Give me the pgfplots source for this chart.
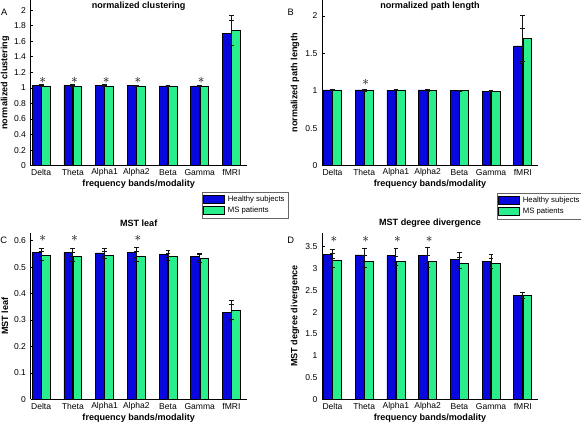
\documentclass[border=0pt]{standalone}
\usepackage{fontspec}
\setmainfont{Liberation Sans}
\usepackage{pgfplots}
\pgfplotsset{compat=1.18}
\definecolor{hblue}{RGB}{8,8,222}
\definecolor{msgreen}{RGB}{40,238,140}
\definecolor{errc}{RGB}{20,20,20}
\newcommand{\tickfont}{\fontsize{6.4}{7}\selectfont}
\newcommand{\labfont}{\fontsize{6.8}{8}\selectfont\bfseries}
\pgfplotsset{
  panel/.style={
    scale only axis, width=162pt,
    xmin=0.67, xmax=7.48, ymin=0,
    axis x line*=bottom, axis y line*=left,
    axis line style={black, line width=0.6pt},
    tick align=inside, major tick length=2pt,
    tick style={black, line width=0.5pt},
    xtick={1,...,7},
    xticklabels={Delta,Theta,Alpha1,Alpha2,Beta,Gamma,fMRI},
    ticklabel style={font=\tickfont},
    /pgf/number format/assume math mode=true,
    xticklabel style={anchor=center, yshift=-5.2pt},
    xlabel={frequency bands/modality},
    xlabel style={font=\labfont, at={(axis description cs:0.5,0)}, anchor=center, yshift=-13.8pt},
    ylabel style={font=\labfont, anchor=center},
    title style={font=\labfont, anchor=center},
    legend style={font=\fontsize{5.8}{6.5}\selectfont, draw=black!60, fill=white,
      inner xsep=0.8pt, inner ysep=0.8pt, row sep=-1.2pt, anchor=north west,
      /tikz/every even column/.style={column sep=0pt}},
    legend cell align=left,
    legend image code/.code={\draw[##1, line width=0.6pt] (0pt,-3pt) rectangle (16pt,3pt);},
  },
  hb/.style={ybar, bar width=0.275, bar shift=-0.145, fill=hblue, draw=black, line width=0.5pt,
    error bars/.cd, y dir=both, y explicit,
    error bar style={errc, line width=0.7pt},
    error mark options={rotate=90, mark size=1.8pt, errc, line width=0.7pt}},
  mg/.style={ybar, bar width=0.275, bar shift=0.145, fill=msgreen, draw=black, line width=0.5pt,
    error bars/.cd, y dir=both, y explicit,
    error bar style={errc, line width=0.7pt},
    error mark options={rotate=90, mark size=1.8pt, errc, line width=0.7pt}},
  stars/.style={only marks, mark=*, mark size=0pt, mark options={draw=none, fill=none},
    nodes near coords={$\ast$}, nodes near coords style={anchor=center, font=\fontsize{10}{10}\selectfont, inner sep=0pt}},
}
\begin{document}
\begin{tikzpicture}
\path[use as bounding box] (0,0) rectangle (435.75pt,317.25pt);
% ---------------- A ----------------
\begin{axis}[panel, at={(23.0pt,193.0pt)}, anchor=south west, height=124.3pt,
  ymax=2.13, ytick={0,0.2,...,2.0},
  yticklabels={0,0.2,0.4,0.6,0.8,1,1.2,1.4,1.6,1.8,2},
  ylabel={normalized clustering},
  ylabel style={at={(axis description cs:-0.119,0.5)}},
  title={normalized clustering},
  title style={at={(axis description cs:0.5,1)}, yshift=-10.5pt},
  legend style={at={(axis description cs:0.792,-0.157)}}]
\addplot[hb] coordinates {(1,1.035)+-(0,0.006) (2,1.035)+-(0,0.006) (3,1.035)+-(0,0.006) (4,1.03)+-(0,0.006) (5,1.025)+-(0,0.005) (6,1.025)+-(0,0.005) (7,1.70)+-(0,0.16)};
\addplot[mg] coordinates {(1,1.025)+-(0,0.006) (2,1.02)+-(0,0.006) (3,1.025)+-(0,0.006) (4,1.025)+-(0,0.006) (5,1.02)+-(0,0.005) (6,1.02)+-(0,0.005) (7,1.74)+-(0,0.19)};
\addplot[stars, forget plot] coordinates {(1.05,1.10) (2.05,1.10) (3.05,1.10) (4.05,1.10) (6.05,1.10)};
\legend{Healthy subjects, MS patients}
\end{axis}
% ---------------- B ----------------
\begin{axis}[panel, at={(241.5pt,193.0pt)}, anchor=south west, height=124.3pt,
  ymax=2.214, ytick={0,0.5,1,1.5,2},
  yticklabels={0,0.5,1,1.5,2},
  ylabel={normalized path length},
  ylabel style={at={(axis description cs:-0.125,0.5)}},
  title={normalized path length},
  title style={at={(axis description cs:0.5,1)}, yshift=-10.5pt},
  legend style={at={(axis description cs:0.809,-0.163)}}]
\addplot[hb] coordinates {(1,1.012)+-(0,0.006) (2,1.012)+-(0,0.006) (3,1.01)+-(0,0.006) (4,1.012)+-(0,0.006) (5,1.005)+-(0,0.005) (6,0.995)+-(0,0.005) (7,1.60)+-(0,0.23)};
\addplot[mg] coordinates {(1,1.012)+-(0,0.006) (2,1.0)+-(0,0.006) (3,1.012)+-(0,0.006) (4,1.0)+-(0,0.006) (5,1.0)+-(0,0.005) (6,0.995)+-(0,0.005) (7,1.70)+-(0,0.31)};
\addplot[stars, forget plot] coordinates {(2.05,1.11)};
\legend{Healthy subjects, MS patients}
\end{axis}
% ---------------- C ----------------
\begin{axis}[panel, at={(23.0pt,17.7pt)}, anchor=south west, height=125pt,
  ymax=0.63, ytick={0,0.1,...,0.6},
  yticklabels={0,0.1,0.2,0.3,0.4,0.5,0.6},
  ylabel={MST leaf},
  ylabel style={at={(axis description cs:-0.119,0.5)}},
  title={MST leaf},
  title style={at={(axis description cs:0.5,1)}, yshift=1.3pt}]
\addplot[hb] coordinates {(1,0.556)+-(0,0.015) (2,0.556)+-(0,0.014) (3,0.554)+-(0,0.015) (4,0.556)+-(0,0.02) (5,0.549)+-(0,0.013) (6,0.540)+-(0,0.013) (7,0.330)+-(0,0.03)};
\addplot[mg] coordinates {(1,0.543)+-(0,0.017) (2,0.540)+-(0,0.017) (3,0.545)+-(0,0.014) (4,0.541)+-(0,0.018) (5,0.539)+-(0,0.014) (6,0.534)+-(0,0.015) (7,0.3375)+-(0,0.036)};
\addplot[stars, forget plot] coordinates {(1.05,0.607) (2.05,0.607) (4.05,0.607)};
\end{axis}
% ---------------- D ----------------
\begin{axis}[panel, at={(241.5pt,17.7pt)}, anchor=south west, height=125pt,
  ymax=3.82, ytick={0,0.5,...,3.5},
  yticklabels={0,0.5,1,1.5,2,2.5,3,3.5},
  ylabel={MST degree divergence},
  ylabel style={at={(axis description cs:-0.125,0.5)}},
  title={MST degree divergence},
  title style={at={(axis description cs:0.5,1)}, yshift=1.3pt}]
\addplot[hb] coordinates {(1,3.33)+-(0,0.11) (2,3.31)+-(0,0.15) (3,3.30)+-(0,0.16) (4,3.30)+-(0,0.19) (5,3.20)+-(0,0.16) (6,3.17)+-(0,0.15) (7,2.39)+-(0,0.07)};
\addplot[mg] coordinates {(1,3.18)+-(0,0.16) (2,3.16)+-(0,0.14) (3,3.17)+-(0,0.11) (4,3.16)+-(0,0.13) (5,3.12)+-(0,0.13) (6,3.12)+-(0,0.11) (7,2.39)+-(0,0.07)};
\addplot[stars, forget plot] coordinates {(1.05,3.67) (2.05,3.67) (3.05,3.67) (4.05,3.67)};
\end{axis}
% panel letters
\node[font=\fontsize{7}{8}\selectfont] at (3.2pt,307.7pt) {A};
\node[font=\fontsize{7}{8}\selectfont] at (218pt,307.7pt) {B};
\node[font=\fontsize{7}{8}\selectfont] at (2.8pt,136.7pt) {C};
\node[font=\fontsize{7}{8}\selectfont] at (218pt,136.7pt) {D};
\end{tikzpicture}
\end{document}
